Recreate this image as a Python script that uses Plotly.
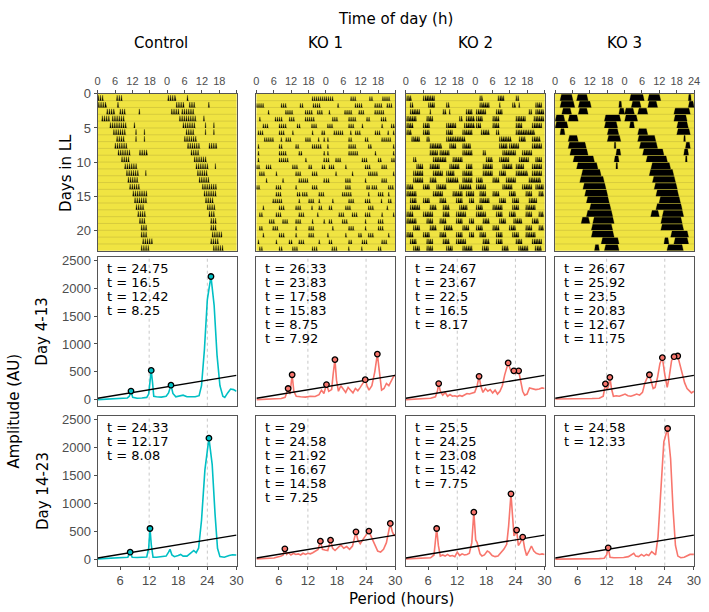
import plotly.graph_objects as go

# ---------------- data ----------------
panel_names = ["Control", "KO 1", "KO 2", "KO 3"]
act_tickvals = [0, 6, 12, 18, 24, 30, 36, 42, 48]
act_ticktext = ["0", "6", "12", "18", "0", "6", "12", "18", ""]
act_ticktext_ko3 = ["0", "6", "12", "18", "0", "6", "12", "18", "24"]
day_tickvals = [0, 5, 10, 15, 20]
period_tickvals = [6, 12, 18, 24, 30]
amp_tickvals = [0, 500, 1000, 1500, 2000, 2500]
n_rows = 23

# activity bouts per day (hours 0-24), days 0..23
control_bouts = [
    [[0, 2.5], [6.5, 8.7]],
    [[0.2, 3.1], [6.8, 7.6]],
    [[3.1, 5.9], [7.6, 9.9], [14.2, 14.6]],
    [[1.4, 4.5], [5, 9.9]],
    [[4.2, 10.4], [12.5, 12.9]],
    [[5.4, 9.9], [13.1, 13.4], [16, 16.3]],
    [[6.5, 9.9], [13.1, 13.4], [16, 16.3]],
    [[5.9, 10.4]],
    [[7, 11.6], [14.4, 17.2]],
    [[8.2, 11.6]],
    [[9.3, 13.8]],
    [[9.9, 14.4], [16.5, 16.8]],
    [[10.4, 14.4]],
    [[11, 15]],
    [[12.1, 17.2]],
    [[12.7, 17.2]],
    [[13.2, 16.6]],
    [[13.8, 17.2]],
    [[14.4, 16.6]],
    [[15, 17.2]],
    [[15, 17.2]],
    [[15.5, 19]],
    [[15, 18.4]],
    [[15.9, 19.9]],
]
ko1_bouts = [
    [[19.2, 24]],
    [[0, 3], [8.5, 11], [15, 16.4], [19.5, 22.5]],
    [[4, 5], [10, 13], [16.8, 19.6], [21, 23]],
    [[1, 2], [6.4, 9.3], [11.3, 13.3], [16.8, 20.2]],
    [[2.2, 4.4], [7.8, 10.7], [14, 15.5], [19, 21.5]],
    [[0.5, 2.7], [7.8, 10.1], [12.4, 13.5], [19.2, 20.3], [22.5, 23.7]],
    [[2.7, 6.1], [8.4, 9.5], [10.1, 12.4], [16.9, 19.2], [21.3, 21.8], [23.2, 24]],
    [[0.5, 1.6], [7.8, 9.5], [13.5, 15.2], [19.2, 22.6]],
    [[0.5, 1.6], [7.8, 10.7], [14.6, 15.8], [23.2, 24]],
    [[0.5, 1.6], [7.8, 11.2], [16.9, 18], [23.2, 24]],
    [[0, 1.6], [3.3, 5.6], [12.4, 14.6], [18, 19.2], [22.6, 24]],
    [[1, 3.3], [6.7, 7.8], [13.5, 15.8], [19.2, 21.5]],
    [[3.3, 4.4], [9, 10.1], [14.6, 18], [23.2, 24]],
    [[0, 1.6], [6.7, 9], [13.5, 14.6], [19.2, 21.5]],
    [[6.7, 9], [14, 15.2], [15.8, 18], [21.5, 23.7]],
    [[5.6, 9], [14.6, 15.2], [18, 20.3], [21.5, 22.6]],
    [[2.2, 3.3], [7.8, 10.1], [13.5, 15.8], [19, 19.5], [21.5, 23.1]],
    [[1, 2.7], [6.7, 9], [14.6, 16.9], [21, 22]],
    [[4.4, 6.7], [9, 11.2], [13.5, 15.8], [19.2, 20.3], [23.2, 24]],
    [[1, 2.7], [5.6, 7.8], [13.5, 14.6], [18, 20.3]],
    [[2.2, 3.3], [7.8, 10.1], [13.5, 14.6], [18, 20.3]],
    [[0.5, 1.6], [6.7, 7.8], [11.2, 12.4], [14.6, 16.9], [21.5, 22.6]],
    [[1, 2.7], [7.8, 9], [12.4, 14.6], [19.2, 21.5]],
    [[2, 4.2], [7.7, 8.8], [12.2, 13.3], [18, 19.5]],
]
ko2_bouts = [
    [[0.3, 2], [6, 10]],
    [[1.5, 2.6], [7.8, 10], [14, 15.1]],
    [[1.5, 4.9], [8.3, 8.8], [12.8, 14], [15, 15.5], [20.8, 23]],
    [[0.3, 3.7], [7.2, 9.4], [18.5, 19.6], [20.8, 24]],
    [[0.3, 2.6], [6, 8.3], [14, 17.4], [20.2, 24]],
    [[0.3, 2], [6, 8.3], [14, 16.2], [19.6, 23]],
    [[2, 4.9], [7.2, 8.3], [14, 20.8]],
    [[8.3, 12.8], [15.1, 17.4], [19.6, 22.5]],
    [[8.3, 11.1], [11.7, 15.1], [19.6, 23]],
    [[2.6, 3.7], [9.4, 14], [16.2, 19.6]],
    [[3.7, 6], [8.3, 11.7], [15.1, 18.5], [20.8, 23]],
    [[2.6, 6], [9.4, 12.8], [14, 16.8], [19.6, 23]],
    [[2.6, 6], [8.3, 10.6], [14, 18.5], [19.6, 23]],
    [[0.3, 2.6], [6, 8.3], [10.6, 14], [18.5, 23]],
    [[0.3, 3.7], [9.4, 12.8], [16.2, 19.6], [20.8, 23.6]],
    [[1.5, 3.7], [6, 8.3], [11.7, 14], [17.4, 19.6], [21.9, 23.6]],
    [[1.5, 4.9], [8.3, 10.6], [12.8, 15.1], [18.5, 21.3]],
    [[0.3, 2.6], [6, 9.4], [12.8, 15.1], [17.4, 20.8]],
    [[0.3, 3.7], [7.2, 9.4], [11.7, 14], [17.4, 19.6], [21.9, 23.6]],
    [[2.6, 4.9], [8.3, 10.6], [13.2, 16.2], [19.6, 21.9]],
    [[0.3, 2.6], [6, 8.3], [11.7, 14], [17.4, 19.6], [21.9, 23.6]],
    [[1.5, 3.7], [7.2, 9.4], [12.8, 15.1], [17.4, 20.8]],
    [[2.6, 4.9], [7.2, 9.4], [14, 16.2], [19.6, 23]],
    [[2.4, 4.7], [9.2, 11.5], [14.9, 18.3], [20.6, 22.9]],
]
ko3_bouts = [
    [[1.7, 6.2], [7.4, 11.4]],
    [[1.7, 6.8], [8, 12.5], [22, 23]],
    [[2.3, 5.7], [8, 11.4], [22, 24]],
    [[0, 3.4], [4.5, 8], [17, 22.7]],
    [[0, 4.5], [17, 21.6]],
    [[1.7, 3.4], [18, 22]],
    [[4.5, 8], [18, 22.7]],
    [[4.5, 10.8], [20.4, 21]],
    [[5.1, 11.4], [21, 22.7]],
    [[6.2, 13.6], [20.4, 22.1]],
    [[7.4, 14.8], [21, 21.6]],
    [[9.1, 15.9]],
    [[8.5, 17]],
    [[9.6, 17.6]],
    [[10.2, 18.2]],
    [[10.8, 18.7]],
    [[11.9, 19.3]],
    [[10.8, 19.9]],
    [[9, 12], [13, 20.4]],
    [[12.5, 19.9]],
    [[12.5, 20.4]],
    [[15.9, 22.1]],
    [[13.6, 15.3], [17, 22.1]],
    [[14.6, 20.3]],
]
all_bouts = [control_bouts, ko1_bouts, ko2_bouts, ko3_bouts]

# periodograms: (period h, amplitude AU)
control_d4_period = [1.4, 3, 5, 6.5, 7.5, 7.9, 8.25, 8.6, 9.5, 10.5, 11.5, 11.9, 12.2, 12.42, 12.7, 12.95, 13.5, 14.5, 15.5, 16, 16.5, 16.9, 17.5, 18.3, 19, 19.8, 20.5, 21.5, 22.3, 22.8, 23.4, 24, 24.75, 25.4, 26, 26.6, 27.2, 27.6, 28.2, 28.8, 29.4, 30]
control_d4_amp = [0, 5, 10, 20, 30, 60, 154, 40, 25, 30, 40, 100, 400, 525, 300, 60, 50, 45, 60, 120, 260, 110, 50, 60, 80, 50, 45, 50, 70, 250, 900, 1800, 2214, 1700, 800, 250, 60, 40, 120, 190, 180, 150]
control_d14_period = [1.4, 3, 5, 6.5, 7.6, 8.08, 8.5, 9.5, 10.5, 11.5, 11.9, 12.17, 12.45, 12.8, 13.5, 14.5, 15.5, 16, 16.3, 16.7, 17.2, 18, 18.5, 19, 19.8, 20.5, 21.2, 21.7, 22.2, 22.8, 23.5, 24.33, 25, 25.6, 26.1, 26.6, 27.5, 28.5, 29.2, 30]
control_d14_amp = [10, 15, 20, 30, 40, 130, 40, 35, 40, 45, 200, 553, 250, 40, 40, 50, 60, 130, 180, 80, 50, 70, 90, 60, 60, 110, 160, 120, 200, 700, 1600, 2167, 1700, 800, 200, 50, 40, 70, 85, 80]
ko1_d4_period = [1.4, 3, 5, 6.5, 7.3, 7.92, 8.3, 8.75, 9.1, 9.6, 10.5, 11.5, 12.5, 13.5, 14.3, 14.8, 15.3, 15.83, 16.3, 16.9, 17.2, 17.58, 17.9, 18.3, 18.8, 19.3, 19.8, 20.3, 20.8, 21.3, 21.8, 22.3, 22.8, 23.3, 23.83, 24.2, 24.6, 25.2, 25.8, 26.33, 26.8, 27.2, 27.7, 28.2, 28.7, 29.2, 29.7, 30]
ko1_d4_amp = [0, 5, 10, 20, 40, 200, 100, 447, 150, 60, 50, 45, 60, 55, 90, 170, 110, 270, 150, 180, 450, 719, 350, 150, 250, 200, 130, 220, 170, 120, 200, 160, 220, 300, 359, 250, 170, 250, 500, 818, 400, 170, 200, 290, 250, 330, 420, 440]
ko1_d14_period = [1.4, 3, 5, 6.5, 6.9, 7.25, 7.6, 8, 8.5, 9, 9.5, 10, 10.5, 11, 11.5, 12, 12.5, 13, 13.6, 14.1, 14.58, 15, 15.5, 16.1, 16.67, 17.1, 17.6, 18.2, 18.8, 19.4, 20, 20.6, 21.2, 21.6, 21.92, 22.3, 22.8, 23.3, 23.8, 24.58, 25.2, 25.8, 26.4, 27, 27.6, 28.2, 28.6, 29, 29.4, 29.8, 30]
ko1_d14_amp = [10, 15, 25, 60, 80, 190, 90, 120, 80, 110, 90, 100, 80, 110, 90, 110, 100, 120, 150, 180, 327, 180, 170, 160, 345, 200, 160, 220, 260, 200, 230, 180, 240, 380, 494, 350, 280, 350, 420, 506, 380, 250, 150, 130, 180, 300, 500, 643, 500, 420, 450]
ko2_d4_period = [1.4, 3, 5, 6.5, 7.5, 7.9, 8.17, 8.5, 9, 9.5, 10, 10.5, 11, 11.5, 12, 12.5, 13, 13.5, 14, 14.5, 15, 15.6, 16.1, 16.5, 16.9, 17.3, 17.8, 18.3, 18.8, 19.3, 19.8, 20.3, 20.8, 21.3, 21.8, 22.5, 23, 23.4, 23.67, 24.1, 24.67, 25.1, 25.5, 25.9, 26.4, 26.9, 27.5, 28.2, 28.9, 29.5, 30]
ko2_d4_amp = [0, 5, 10, 25, 50, 150, 288, 150, 80, 130, 60, 90, 60, 70, 55, 75, 60, 90, 110, 100, 120, 130, 250, 419, 230, 130, 200, 150, 180, 120, 170, 100, 150, 250, 450, 660, 530, 500, 518, 470, 518, 350, 150, 80, 100, 210, 200, 180, 190, 210, 200]
ko2_d14_period = [1.4, 3, 5, 6.5, 7.2, 7.5, 7.75, 8.1, 8.5, 9, 9.5, 10, 10.5, 11, 11.5, 12, 12.5, 13, 13.5, 14, 14.5, 15, 15.42, 15.8, 16.1, 16.4, 16.7, 17.1, 17.6, 18.2, 18.6, 19.2, 19.8, 20.4, 21, 21.6, 22.2, 22.6, 23.08, 23.4, 23.7, 24.25, 24.6, 25, 25.5, 25.9, 26.3, 26.8, 27.3, 27.8, 28.3, 29, 29.5, 30]
ko2_d14_amp = [10, 15, 20, 30, 80, 300, 553, 250, 60, 80, 60, 90, 60, 70, 50, 130, 70, 100, 80, 90, 110, 300, 845, 350, 300, 200, 100, 60, 80, 150, 130, 70, 50, 60, 120, 180, 270, 600, 1173, 700, 420, 524, 250, 300, 399, 200, 70, 150, 240, 150, 110, 90, 100, 90]
ko3_d4_period = [1.4, 3, 5, 7, 9, 10.5, 11.3, 11.75, 12.1, 12.4, 12.67, 13, 13.4, 14, 14.6, 15.2, 15.8, 16.4, 17, 17.6, 18.2, 18.8, 19.4, 19.9, 20.4, 20.83, 21.2, 21.6, 22, 22.5, 23, 23.5, 24, 24.5, 24.9, 25.4, 25.92, 26.3, 26.67, 27.1, 27.6, 28.1, 28.6, 29, 29.5, 30]
ko3_d4_amp = [10, 10, 12, 15, 20, 25, 60, 283, 180, 250, 400, 200, 60, 70, 60, 80, 100, 70, 60, 80, 100, 80, 130, 300, 400, 447, 300, 200, 220, 400, 650, 754, 450, 220, 400, 700, 772, 760, 784, 650, 450, 300, 200, 160, 120, 150]
ko3_d14_period = [1.4, 3, 5, 7, 9, 10.5, 11.5, 12, 12.33, 12.7, 13.5, 14.5, 15.5, 16.5, 17.2, 17.6, 18, 18.6, 19.2, 19.7, 20.2, 20.7, 21.3, 21.7, 22.1, 22.6, 23.2, 23.8, 24.58, 25.2, 25.7, 26.2, 26.7, 27.3, 28, 28.6, 29.2, 30]
ko3_d14_amp = [5, 5, 5, 10, 15, 15, 20, 80, 208, 40, 30, 30, 35, 50, 80, 110, 60, 50, 90, 60, 90, 70, 140, 110, 80, 400, 1300, 2100, 2339, 1800, 900, 250, 60, 30, 40, 70, 90, 90]

# detected peaks
control_d4_peaks = [24.75, 16.5, 12.42, 8.25]
control_d4_peak_amp = [2214, 260, 525, 154]
control_d14_peaks = [24.33, 12.17, 8.08]
control_d14_peak_amp = [2167, 553, 130]
ko1_d4_peaks = [26.33, 23.83, 17.58, 15.83, 8.75, 7.92]
ko1_d4_peak_amp = [818, 359, 719, 270, 447, 200]
ko1_d14_peaks = [29, 24.58, 21.92, 16.67, 14.58, 7.25]
ko1_d14_peak_amp = [643, 506, 494, 345, 327, 190]
ko2_d4_peaks = [24.67, 23.67, 22.5, 16.5, 8.17]
ko2_d4_peak_amp = [518, 518, 660, 419, 288]
ko2_d14_peaks = [25.5, 24.25, 23.08, 15.42, 7.75]
ko2_d14_peak_amp = [399, 524, 1173, 845, 553]
ko3_d4_peaks = [26.67, 25.92, 23.5, 20.83, 12.67, 11.75]
ko3_d4_peak_amp = [784, 772, 754, 447, 400, 283]
ko3_d14_peaks = [24.58, 12.33]
ko3_d14_peak_amp = [2339, 208]

threshold_period = [1.4, 30]
threshold_amp = [25, 435]

perio = [
    [(control_d4_period, control_d4_amp, control_d4_peaks, control_d4_peak_amp),
     (ko1_d4_period, ko1_d4_amp, ko1_d4_peaks, ko1_d4_peak_amp),
     (ko2_d4_period, ko2_d4_amp, ko2_d4_peaks, ko2_d4_peak_amp),
     (ko3_d4_period, ko3_d4_amp, ko3_d4_peaks, ko3_d4_peak_amp)],
    [(control_d14_period, control_d14_amp, control_d14_peaks, control_d14_peak_amp),
     (ko1_d14_period, ko1_d14_amp, ko1_d14_peaks, ko1_d14_peak_amp),
     (ko2_d14_period, ko2_d14_amp, ko2_d14_peaks, ko2_d14_peak_amp),
     (ko3_d14_period, ko3_d14_amp, ko3_d14_peaks, ko3_d14_peak_amp)],
]
row_labels = ["Day 4-13", "Day 14-23"]

# ---------------- style ----------------
W, H = 709, 612
TEAL, SALMON = "#00BFC4", "#F8766D"
YELLOW = "#F0E442"
GREY = "#4D4D4D"
BORDER = "#555555"
TFONT = "DejaVu Sans, Liberation Sans, Arial, sans-serif"
col_left = [96, 257, 408.5, 560]
col_w = 141
act_top, act_bot = 88, 247
row_tb = [(253, 404), (414, 566)]
bar_height = [0.8, 0.62, 0.75, 0.9]      # bar height as fraction of a day row
spike_step = [0.75, 0.7, 0.6, None]      # drawing texture (None = solid block)


def sfx(i):
    return "" if i == 1 else str(i)


def label(text, x, y, size=15, angle=0):
    return dict(text=text, xref="paper", yref="paper", x=x / W, y=1 - y / H,
                xanchor="center", yanchor="middle", textangle=angle, showarrow=False,
                font=dict(size=size, color="black", family=TFONT))


def bout_outline(x0, x1, base, h, step):
    """Outline of one activity bout drawn as a cluster of count spikes."""
    if step is None:
        r = min(0.5, (x1 - x0) * 0.2)
        return [x0, x0 + r, x1 - r, x1], [base, base - h, base - h, base]
    xs, ys = [x0], [base]
    x = x0
    w = step * 0.6
    while x + w <= x1 + 1e-9:
        xs += [x + w * 0.5, x + w, min(x + step, x1)]
        ys += [base - h, base, base]
        x += step
    if len(xs) == 1:
        xs += [(x0 + x1) / 2, x1]
        ys += [base - h, base]
    return xs, ys


fig = go.Figure()
layout = dict(
    width=W, height=H, margin=dict(l=0, r=0, t=0, b=0, pad=0),
    paper_bgcolor="white", plot_bgcolor="rgba(0,0,0,0)", showlegend=False,
    font=dict(family="Liberation Sans, Arial, sans-serif", color=GREY, size=13),
)
shapes, annotations = [], []

# actograms
for c in range(4):
    i = c + 1
    s = sfx(i)
    left = col_left[c]
    layout["xaxis" + s] = dict(
        domain=[left / W, (left + col_w) / W], range=[0, 48],
        tickvals=act_tickvals, ticktext=act_ticktext_ko3 if c == 3 else act_ticktext,
        side="top", ticks="outside", ticklen=3, tickcolor=GREY,
        tickfont=dict(size=11, color=GREY), showline=True, mirror=True,
        linecolor=BORDER, linewidth=1, showgrid=False, zeroline=False,
        anchor="y" + s, fixedrange=True)
    layout["yaxis" + s] = dict(
        domain=[1 - act_bot / H, 1 - act_top / H], range=[n_rows, 0],
        tickvals=day_tickvals if c == 0 else [], showticklabels=(c == 0),
        ticks="outside" if c == 0 else "", ticklen=3, tickcolor=GREY,
        tickfont=dict(size=13, color=GREY), showline=True, mirror=True,
        linecolor=BORDER, linewidth=1, showgrid=False, zeroline=False,
        anchor="x" + s, fixedrange=True)
    shapes.append(dict(type="rect", xref="x" + s + " domain", yref="y" + s + " domain",
                       x0=0, x1=1, y0=0, y1=1, fillcolor=YELLOW, line=dict(width=0), layer="below"))
    for k in range(1, n_rows):
        shapes.append(dict(type="line", xref="x" + s + " domain", yref="y" + s,
                           x0=0, x1=1, y0=k, y1=k, line=dict(color="rgba(150,140,50,0.45)", width=0.6),
                           layer="below"))
    bouts = all_bouts[c]
    xs, ys = [], []
    for d in range(n_rows):
        base = d + 1
        for half, day in ((0, d), (24, d + 1)):
            for st, en in bouts[day]:
                bx, by = bout_outline(half + st, half + en, base, bar_height[c], spike_step[c])
                xs += bx + [None]
                ys += by + [None]
    fig.add_trace(go.Scatter(x=xs, y=ys, xaxis="x" + s, yaxis="y" + s, mode="lines",
                             fill="toself", fillcolor="black", line=dict(width=0.3, color="black"),
                             hoverinfo="skip"))
    annotations.append(label(panel_names[c], 160 if c == 0 else left + col_w / 2, 36))

# periodograms
for r in range(2):
    top, bot = row_tb[r]
    for c in range(4):
        i = 5 + r * 4 + c
        s = sfx(i)
        left = col_left[c]
        layout["xaxis" + s] = dict(
            domain=[left / W, (left + col_w) / W], range=[1.37, 30.05],
            tickvals=period_tickvals, showticklabels=(r == 1),
            ticks="outside" if r == 1 else "", ticklen=3, tickcolor=GREY,
            tickfont=dict(size=13, color=GREY), showline=True, mirror=True,
            linecolor=BORDER, linewidth=1, showgrid=False, zeroline=False,
            anchor="y" + s, fixedrange=True)
        layout["yaxis" + s] = dict(
            domain=[1 - bot / H, 1 - top / H], range=[-110, 2570],
            tickvals=amp_tickvals, showticklabels=(c == 0),
            ticks="outside" if c == 0 else "", ticklen=3, tickcolor=GREY,
            tickfont=dict(size=13, color=GREY), showline=True, mirror=True,
            linecolor=BORDER, linewidth=1, showgrid=False, zeroline=False,
            anchor="x" + s, fixedrange=True)
        for v in (12, 24):
            shapes.append(dict(type="line", xref="x" + s, yref="y" + s + " domain",
                               x0=v, x1=v, y0=0, y1=1,
                               line=dict(color="#C8C8C8", width=1, dash="dot"), layer="below"))
        per, amp, pk, pka = perio[r][c]
        col = TEAL if c == 0 else SALMON
        fig.add_trace(go.Scatter(x=per, y=amp, xaxis="x" + s, yaxis="y" + s, mode="lines",
                                 line=dict(color=col, width=1.6), hoverinfo="skip"))
        fig.add_trace(go.Scatter(x=threshold_period, y=threshold_amp, xaxis="x" + s, yaxis="y" + s,
                                 mode="lines", line=dict(color="black", width=1.4), hoverinfo="skip"))
        fig.add_trace(go.Scatter(x=pk, y=pka, xaxis="x" + s, yaxis="y" + s, mode="markers",
                                 marker=dict(size=5.5, color=col, line=dict(color="black", width=1.3)),
                                 hoverinfo="skip"))
        for j, v in enumerate(pk):
            annotations.append(dict(text=f"t = {v:g}", xref="x" + s + " domain", yref="y" + s + " domain",
                                    x=0, y=1, xanchor="left", yanchor="middle", xshift=7,
                                    yshift=-(12 + 14 * j), showarrow=False,
                                    font=dict(size=13, color="black", family=TFONT)))
    annotations.append(label(row_labels[r], 40, (top + bot) / 2, angle=-90))

annotations += [
    label("Time of day (h)", 398, 12),
    label("Days in LL", 64, 168, angle=-90),
    label("Amplitude (AU)", 11, 409, angle=-90),
    label("Period (hours)", 404, 600),
]
layout["shapes"] = shapes
layout["annotations"] = annotations
fig.update_layout(**layout)
fig.write_html("out.html", config={"displayModeBar": False},
               post_script="document.body.style.margin='0px';document.body.style.padding='0px';")
